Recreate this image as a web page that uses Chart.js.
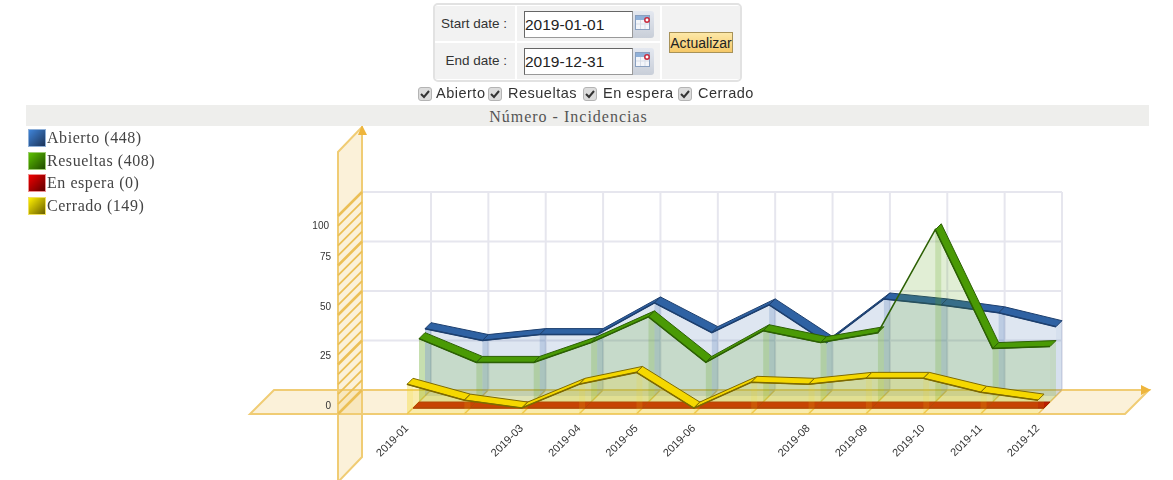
<!DOCTYPE html>
<html>
<head>
<meta charset="utf-8">
<title>Incidencias</title>
<script src="https://cdn.jsdelivr.net/npm/chart.js@4"></script>
<style>
    html, body { margin: 0; padding: 0; background: #fff; width: 1173px; height: 480px; overflow: hidden; font-family: "Liberation Sans", sans-serif; }
    #chart { position: absolute; left: 0; top: 0; }
    .abs { position: absolute; white-space: nowrap; }
    #panel { left: 433px; top: 3px; width: 305px; height: 75px; border: 2px solid #e2e2e2; border-radius: 5px; background: #fff; }
    .cell { position: absolute; background: #f2f2f2; color: #333; font-size: 13.5px; }
    .dateInput { position: absolute; box-sizing: border-box; width: 109px; height: 27px; border: 1px solid #999; border-top-color: #666; border-left-color: #666; padding: 0 0 0 0; font: 15.5px "Liberation Sans", sans-serif; color: #222; background: #fff; }
    .cal { position: absolute; width: 21px; height: 27px; background: linear-gradient(#e4e8f0, #c8ced8); border-radius: 0 3px 3px 0; }
    #update { position: absolute; left: 669px; top: 32px; box-sizing: border-box; width: 64px; height: 21px; padding: 0; border: 1px solid #a89258; background: linear-gradient(#fde8a8, #f5c868); font: 14px "Liberation Sans", sans-serif; color: #222; }
    .check { position: absolute; top: 87px; width: 14px; height: 14px; margin: 0; appearance: none; border: 1px solid #b4b4b4; border-radius: 3px; background: #dcdcdc url("data:image/svg+xml,%3Csvg xmlns='http://www.w3.org/2000/svg' width='12' height='12'%3E%3Cpath d='M2 6l3 3 5-6' fill='none' stroke='%23333' stroke-width='2'/%3E%3C/svg%3E") center no-repeat; }
    .checkLabel { font-size: 14.5px; color: #333; top: 85px; letter-spacing: 0.5px; }
    #titleBar { left: 26px; top: 105px; width: 1123px; height: 21px; background: #eeeeec; text-align: center; font: 16px/23px "Liberation Serif", serif; color: #555; letter-spacing: 1px; }
    #titleBar span { position: relative; left: -19px; }
    .legendItem { left: 28px; font: 16px/18px "Liberation Serif", serif; color: #444; letter-spacing: 0.55px; }
    .swatch { display: inline-block; box-sizing: border-box; width: 18px; height: 18px; vertical-align: top; margin-right: 1px; }
</style>
</head>
<body>
<canvas id="chart" width="1173" height="480"></canvas>

<div id="panel" class="abs"></div>
<div class="cell" style="left:435px;top:6px;width:80px;height:35px;line-height:35px;text-align:right;"><span style="padding-right:8px;">Start date :</span></div>
<div class="cell" style="left:435px;top:43px;width:80px;height:36px;line-height:36px;text-align:right;"><span style="padding-right:8px;">End date :</span></div>
<div class="cell" style="left:517px;top:6px;width:143px;height:35px;"></div>
<div class="cell" style="left:517px;top:43px;width:143px;height:36px;"></div>
<div class="cell" style="left:662px;top:6px;width:78px;height:73px;"></div>
<input class="dateInput" style="left:524px;top:11px;" value="2019-01-01">
<input class="dateInput" style="left:524px;top:48px;" value="2019-12-31">
<div class="cal" style="left:633px;top:11px;"><svg width="21" height="27"><rect x="2.5" y="4.5" width="14" height="14" fill="#f4f6fa" stroke="#8aa0c0"/><rect x="3" y="5" width="13" height="4" fill="#8fb0d8"/><path d="M3 13h13M7.5 9v9M12 9v9" stroke="#d8dee8"/><circle cx="14" cy="9" r="2.2" fill="#fff" stroke="#c8283c" stroke-width="1.5"/></svg></div>
<div class="cal" style="left:633px;top:48px;"><svg width="21" height="27"><rect x="2.5" y="4.5" width="14" height="14" fill="#f4f6fa" stroke="#8aa0c0"/><rect x="3" y="5" width="13" height="4" fill="#8fb0d8"/><path d="M3 13h13M7.5 9v9M12 9v9" stroke="#d8dee8"/><circle cx="14" cy="9" r="2.2" fill="#fff" stroke="#c8283c" stroke-width="1.5"/></svg></div>
<button id="update">Actualizar</button>

<div id="checks"></div>
<div id="titleBar" class="abs"><span>Número - Incidencias</span></div>
<div id="legend"></div>

<script>
const months = ['2019-01', '2019-02', '2019-03', '2019-04', '2019-05', '2019-06', '2019-07', '2019-08', '2019-09', '2019-10', '2019-11', '2019-12'];
const shownMonths = ['2019-01', '2019-03', '2019-04', '2019-05', '2019-06', '2019-08', '2019-09', '2019-10', '2019-11', '2019-12'];
const seriesNames = ['Abierto', 'Resueltas', 'En espera', 'Cerrado'];
const abierto = [34, 28, 31, 31, 47, 32, 46, 27, 49, 46, 42, 35];
const resueltas = [32, 20, 20, 30, 43, 20, 36, 30, 35, 87, 27, 28];
const enEspera = [0, 0, 0, 0, 0, 0, 0, 0, 0, 0, 0, 0];
const cerrado = [15, 7, 3, 15, 21, 3, 16, 15, 18, 18, 11, 7];
const yTickLabels = [0, 25, 50, 75, 100];

const seriesColors = [
    { ribbon: '#2f62a3', edge: '#1d3f6e', area: 'rgba(50, 100, 170, 0.16)', strip: 'rgba(50, 100, 170, 0.2)', swatch: 'linear-gradient(135deg, #3f84d8, #1c3358)', frame: '#8fb0d8' },
    { ribbon: '#4a9a05', edge: '#2c6004', area: 'rgba(90, 160, 20, 0.18)', strip: 'rgba(90, 160, 20, 0.2)', swatch: 'linear-gradient(135deg, #5cc000, #1f4a00)', frame: '#9ccc70' },
    { ribbon: '#bc1c00', edge: '#a02000', area: 'rgba(204, 42, 0, 0.05)', strip: 'rgba(204, 42, 0, 0.15)', swatch: 'linear-gradient(135deg, #f00000, #600000)', frame: '#ee9090' },
    { ribbon: '#f5d800', edge: '#7e6a00', area: 'rgba(240, 215, 20, 0.22)', strip: 'rgba(240, 215, 20, 0.14)', swatch: 'linear-gradient(135deg, #fff000, #6a6000)', frame: '#f0e060' }
];

const seriesData = [abierto, resueltas, enEspera, cerrado];
const planeFill = 'rgba(240, 205, 120, 0.28)';
const planeLine = '#f0cc74';
const gridLine = '#e6e6ee';
const depthX = 24;
const depthY = -24;
const sliceX = depthX / 4;
const sliceY = depthY / 4;

// Top form bits that are built from the series names
const checkPos = [[418, 436], [488, 508], [583, 603], [678, 698]];
document.getElementById('checks').innerHTML = seriesNames.map((name, i) => `
    <input type="checkbox" class="check" checked style="left:${checkPos[i][0]}px">
    <span class="abs checkLabel" style="left:${checkPos[i][1]}px">${name}</span>
`).join('');

const legendTops = [129, 152, 174, 197];
document.getElementById('legend').innerHTML = seriesNames.map((name, i) => {
    const total = seriesData[i].reduce((a, b) => a + b, 0);
    return `<div class="abs legendItem" style="top:${legendTops[i]}px"><span class="swatch" style="background:${seriesColors[i].swatch};border:1px solid ${seriesColors[i].frame}"></span>${name} (${total})</div>`;
}).join('');

function poly(ctx, pts, fill, stroke, width) {
    ctx.beginPath();
    pts.forEach((p, i) => (i ? ctx.lineTo(p[0], p[1]) : ctx.moveTo(p[0], p[1])));
    ctx.closePath();
    if (fill) {
        ctx.fillStyle = fill;
        ctx.fill();
    }
    if (stroke) {
        ctx.strokeStyle = stroke;
        ctx.lineWidth = width || 1;
        ctx.stroke();
    }
}

function segment(ctx, x1, y1, x2, y2, color, width) {
    ctx.beginPath();
    ctx.moveTo(x1, y1);
    ctx.lineTo(x2, y2);
    ctx.strokeStyle = color;
    ctx.lineWidth = width;
    ctx.stroke();
}

// Back grid, floor and wall planes
const planes = {
    id: 'planes',
    beforeDatasetsDraw(chart) {
        const { ctx, scales: { x, y } } = chart;
        const y0 = y.getPixelForValue(0);
        const yTop = y.getPixelForValue(100);
        const wallX = x.left - 69;
        const floorL = x.left - 157;
        const floorR = x.right + 87;
        const backRight = x.getPixelForValue(11) + depthX;

        ctx.save();
        // back wall grid
        yTickLabels.slice(1).forEach(v => {
            const py = y.getPixelForValue(v) + depthY;
            segment(ctx, wallX + depthX, py, backRight, py, gridLine, 2);
        });
        months.forEach((m, i) => {
            const px = x.getPixelForValue(i) + depthX;
            segment(ctx, px, yTop + depthY, px, y0 + depthY, gridLine, 2);
        });

        // floor
        poly(ctx, [[floorL, y0], [floorR, y0], [floorR + depthX, y0 + depthY], [floorL + depthX, y0 + depthY]], planeFill, planeLine, 2);
        months.forEach((m, i) => {
            const px = x.getPixelForValue(i);
            segment(ctx, px, y0, px + depthX, y0 + depthY, '#eec468', 1.5);
        });

        // wall with its hatching, one line per y tick
        poly(ctx, [[wallX, y0 - 262], [wallX + depthX, y0 - 287], [wallX + depthX, y0 + 43], [wallX, y0 + 68]], planeFill, planeLine, 2);
        y.ticks.forEach(t => {
            const py = y.getPixelForValue(t.value);
            segment(ctx, wallX, py, wallX + depthX, py + depthY, '#ebbf55', t.value % 25 === 0 ? 2.5 : 1.8);
        });

        // axis arrows
        poly(ctx, [[wallX + depthX, y0 - 289], [wallX + depthX + 5, y0 - 279], [wallX + depthX - 4, y0 - 279]], '#eeb53c');
        const arrowY = y0 + depthY;
        poly(ctx, [[floorR + depthX + 2, arrowY], [floorR + depthX - 8, arrowY - 5], [floorR + depthX - 8, arrowY + 5]], '#eeb53c');

        // y tick labels sit on the wall; the top one is pulled down as in the original
        ctx.fillStyle = '#333';
        ctx.font = '10px "Liberation Sans", sans-serif';
        ctx.textAlign = 'right';
        ctx.textBaseline = 'middle';
        yTickLabels.forEach(v => {
            const nudge = v === 100 ? [-2, 10] : [0, -8];
            ctx.fillText(String(v), wallX - 7 + nudge[0], y.getPixelForValue(v) + nudge[1]);
        });
        ctx.restore();
    },
    // each series is pushed back to its own slice of the depth
    beforeDatasetDraw(chart, args) {
        const { ctx, scales: { y } } = chart;
        const colors = seriesColors[args.index];
        const slice = chart.data.datasets[args.index].order - 1;
        const pts = args.meta.data;
        const base = y.getPixelForValue(0);

        ctx.save();
        ctx.translate(slice * sliceX, slice * sliceY);
        ctx.lineJoin = 'round';

        poly(ctx, [...pts.map(p => [p.x, p.y]), [pts[pts.length - 1].x, base], [pts[0].x, base]], colors.area);
        pts.forEach(p => {
            poly(ctx, [[p.x, p.y], [p.x + sliceX, p.y + sliceY], [p.x + sliceX, base + sliceY], [p.x, base]], colors.strip);
        });
        pts.slice(0, -1).forEach((p, i) => {
            const q = pts[i + 1];
            const cross = (q.x - p.x) * sliceY - (q.y - p.y) * sliceX;
            if (cross < 0) {
                poly(ctx, [[p.x, p.y], [q.x, q.y], [q.x + sliceX, q.y + sliceY], [p.x + sliceX, p.y + sliceY]], colors.ribbon, colors.edge, 1);
            }
        });
    },
    afterDatasetDraw(chart) {
        chart.ctx.restore();
    }
};

new Chart(document.getElementById('chart').getContext('2d'), {
    type: 'line',
    data: {
        labels: months,
        datasets: seriesNames.map((name, i) => ({
            label: name,
            data: seriesData[i],
            order: 4 - i,
            clip: false,
            borderColor: seriesColors[i].edge,
            borderWidth: 1.5,
            pointRadius: 0,
            tension: 0,
            fill: false
        }))
    },
    options: {
        responsive: false,
        animation: false,
        devicePixelRatio: 1,
        layout: { padding: { left: 407, right: 135, top: 216, bottom: 0 } },
        plugins: {
            legend: { display: false },
            title: { display: false },
            tooltip: { enabled: false }
        },
        scales: {
            x: {
                grid: { display: false, drawTicks: false },
                border: { display: false },
                afterFit: scale => { scale.height = 66; },
                ticks: {
                    autoSkip: false,
                    minRotation: 45,
                    maxRotation: 45,
                    padding: 8,
                    color: '#333',
                    font: { family: '"Liberation Sans", sans-serif', size: 11 },
                    callback: function(value) {
                        const label = this.getLabelForValue(value);
                        return shownMonths.includes(label) ? label : '';
                    }
                }
            },
            y: {
                display: false,
                min: 0,
                max: 100,
                ticks: { stepSize: 5, autoSkip: false, maxTicksLimit: 21 }
            }
        }
    },
    plugins: [planes]
});
</script>
</body>
</html>
